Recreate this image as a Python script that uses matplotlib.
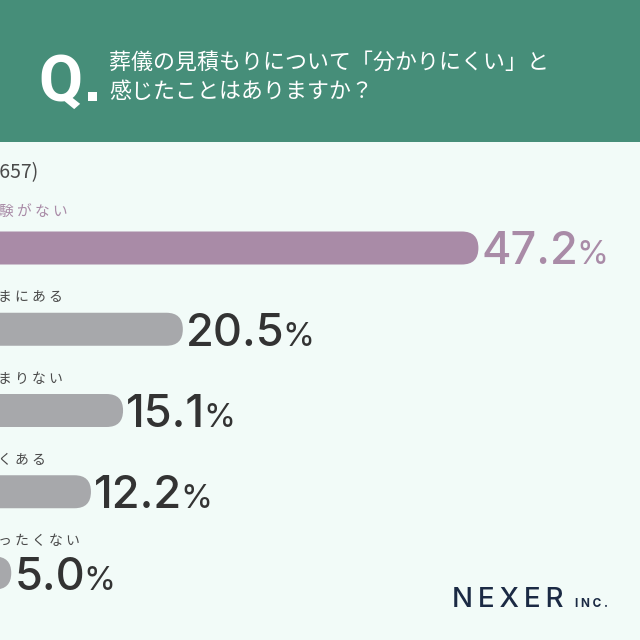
import matplotlib
matplotlib.use("Agg")
import matplotlib.pyplot as plt
from matplotlib.patches import Rectangle, FancyBboxPatch
from matplotlib.transforms import blended_transform_factory

# ---- data ----
categories = ["経験がない", "たまにある", "あまりない", "よくある", "まったくない"]
values = [47.2, 20.5, 15.1, 12.2, 5.0]
value_labels = ["47.2", "20.5", "15.1", "12.2", "5.0"]
sample_note = "(n=657)"
title_lines = ["葬儀の見積もりについて「分かりにくい」と", "感じたことはありますか？"]

# ---- style ----
BG = "#F2FBF8"
HEADER = "#468E79"
PURPLE = "#A98BA7"
GRAY = "#A7A8AB"
DARK = "#333333"
LABEL_GRAY = "#4A4A4A"
NAVY = "#1B2A44"
JP = ["Noto Sans CJK JP", "DejaVu Sans"]

W = H = 640
fig = plt.figure(figsize=(6.4, 6.4), dpi=100)
fig.patch.set_facecolor(BG)

def fx(px):
    return px / W

def fy(py):
    return 1 - py / H

def spaced(s):
    return " ".join(list(s))

# header band
fig.patches.append(Rectangle((0, fy(142)), 1, 142 / H, transform=fig.transFigure,
                             facecolor=HEADER, edgecolor="none", zorder=0))
fig.text(fx(38), fy(101), "Q", color="white", fontsize=46, fontweight="bold",
         family="Roboto", ha="left", va="baseline")
fig.patches.append(Rectangle((fx(88), fy(101)), 9 / W, 9 / H, transform=fig.transFigure,
                             facecolor="white", edgecolor="none", zorder=1))
fig.text(fx(109), fy(63), title_lines[0], color="white", fontsize=15.8,
         family=JP, ha="left", va="center")
fig.text(fx(109), fy(92), title_lines[1], color="white", fontsize=15.8,
         family=JP, ha="left", va="center")

# main axes spanning the figure
ax = fig.add_axes([0, 0, 1, 1])
ax.set_facecolor("none")
ax.axis("off")
px_per_pct = 11.07
x0_px = -44.1
ax.set_xlim((0 - x0_px) / px_per_pct, (W - x0_px) / px_per_pct)
row0_px, row_step = 248, 81.25
ax.set_ylim((H - row0_px) / row_step, (0 - row0_px) / row_step)

bar_h = 33 / row_step
r_x = 16.5 / px_per_pct
aspect = (16.5 / row_step) / r_x

fig.text(fx(38), fy(173), sample_note, color=LABEL_GRAY, fontsize=14,
         family=JP, ha="right", va="center")

lab_tr = blended_transform_factory(fig.transFigure, ax.transData)
for i, (cat, v, vl) in enumerate(zip(categories, values, value_labels)):
    col = PURPLE if i == 0 else GRAY
    ax.add_patch(FancyBboxPatch((0, i - bar_h / 2), v, bar_h,
                                boxstyle=f"round,pad=0,rounding_size={r_x}",
                                mutation_aspect=aspect, facecolor=col,
                                edgecolor="none", zorder=2))
    lab_off = 36 if i == 0 else 32
    ax.annotate(spaced(cat), xy=(fx(-19), i), xycoords=lab_tr, xytext=(0, lab_off),
                textcoords="offset pixels", ha="left", va="center",
                fontsize=10.6 if i == 0 else 10.0, family=JP,
                color=PURPLE if i == 0 else LABEL_GRAY, annotation_clip=False)
    ncol = PURPLE if i == 0 else DARK
    t = ax.annotate(vl, xy=(v, i), xytext=(3, -16.5), textcoords="offset pixels",
                    ha="left", va="baseline", fontsize=32.5, family="Inter",
                    fontweight="medium", color=ncol, annotation_clip=False)
    ax.annotate("%", xy=(1.0, i), xycoords=(t, "data"), xytext=(-2, -16.5),
                textcoords="offset pixels", ha="left", va="baseline",
                fontsize=23.5, family="Inter", color=ncol, annotation_clip=False)

# logo
fig.text(fx(452), fy(607), "N\u2009E\u2009X\u2009E\u2009R", color=NAVY, fontsize=20,
         family=["Inter", "DejaVu Sans"], fontweight="medium", ha="left", va="baseline")
fig.text(fx(575), fy(607), "I N C .", color=NAVY, fontsize=8.5, family="Inter",
         fontweight="bold", ha="left", va="baseline")

fig.savefig("out.png", dpi=100, facecolor=BG)
